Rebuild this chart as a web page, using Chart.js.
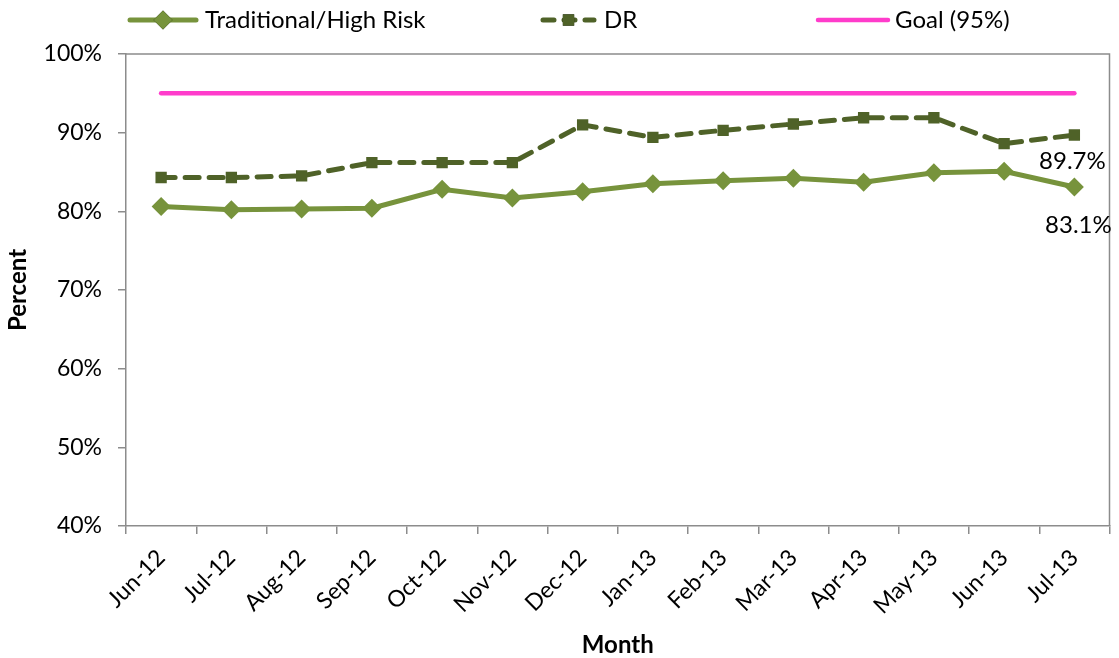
<!DOCTYPE html>
<html>
<head>
<meta charset="utf-8">
<script src="https://cdn.jsdelivr.net/npm/chart.js@4/dist/chart.umd.min.js"></script>
<style>
  html, body { margin: 0; padding: 0; background: #fff; }
  #wrap { width: 1119px; height: 658px; position: relative; }
</style>
</head>
<body>
<div id="wrap"><canvas id="chart"></canvas></div>
<script>
// Monthly compliance rates, June 2012 – July 2013
const months = ['Jun-12', 'Jul-12', 'Aug-12', 'Sep-12', 'Oct-12', 'Nov-12', 'Dec-12',
                'Jan-13', 'Feb-13', 'Mar-13', 'Apr-13', 'May-13', 'Jun-13', 'Jul-13'];
const traditionalHighRisk = [80.6, 80.2, 80.3, 80.4, 82.8, 81.7, 82.5, 83.5, 83.9, 84.2, 83.7, 84.9, 85.1, 83.1];
const dr = [84.3, 84.3, 84.5, 86.2, 86.2, 86.2, 91.0, 89.4, 90.3, 91.1, 91.9, 91.9, 88.6, 89.7];
const goal = [95, 95, 95, 95, 95, 95, 95, 95, 95, 95, 95, 95, 95, 95];
const yTicks = [40, 50, 60, 70, 80, 90, 100];

const FONT = 'Lato, "Open Sans", "Liberation Sans", sans-serif';
const AXIS_GREY = '#8c8c8c';

// Box around the plot area
const frame = {
  id: 'frame',
  afterDatasetsDraw(chart) {
    const { ctx, chartArea: a } = chart;
    ctx.save();
    ctx.strokeStyle = AXIS_GREY;
    ctx.lineWidth = 1.5;
    ctx.beginPath();
    ctx.moveTo(a.left, a.top);
    ctx.lineTo(a.right, a.top);
    ctx.lineTo(a.right, a.bottom);
    ctx.stroke();
    ctx.restore();
  }
};

// Value label under the last point of selected series
const lastLabels = {
  id: 'lastLabels',
  afterDatasetsDraw(chart) {
    const { ctx } = chart;
    ctx.save();
    ctx.font = '24px ' + FONT;
    ctx.fillStyle = '#000';
    ctx.textAlign = 'center';
    ctx.textBaseline = 'middle';
    chart.data.datasets.forEach((ds, i) => {
      if (!ds.endLabel) return;
      const meta = chart.getDatasetMeta(i);
      const last = meta.data[meta.data.length - 1];
      const v = ds.data[ds.data.length - 1];
      ctx.fillText(v.toFixed(1) + '%', last.x + ds.endLabel.dx, last.y + ds.endLabel.dy);
    });
    ctx.restore();
  }
};

// Legend row along the top: line sample with marker, then the name
const topLegend = {
  id: 'topLegend',
  afterDraw(chart) {
    const { ctx } = chart;
    const y = 20;
    ctx.save();
    ctx.font = '24px ' + FONT;
    ctx.textBaseline = 'middle';
    ctx.textAlign = 'left';
    chart.data.datasets.forEach((ds) => {
      const L = ds.legendPos;
      ctx.save();
      ctx.strokeStyle = ds.borderColor;
      ctx.lineWidth = ds.borderWidth;
      ctx.lineCap = 'round';
      ctx.setLineDash(ds.legendDash || []);
      ctx.beginPath();
      ctx.moveTo(L.x0, y);
      ctx.lineTo(L.x1, y);
      ctx.stroke();
      ctx.restore();
      if (ds.pointStyle && ds.pointRadius > 0) {
        Chart.helpers.drawPoint(ctx, {
          pointStyle: ds.pointStyle,
          radius: ds.pointRadius,
          borderWidth: 0,
          rotation: 0
        }, (L.x0 + L.x1) / 2, y);
        ctx.fillStyle = ds.pointBackgroundColor;
        ctx.fill();
      }
      ctx.fillStyle = '#000';
      ctx.fillText(ds.label, L.tx, y);
    });
    ctx.restore();
  }
};

const chart = new Chart(document.getElementById('chart'), {
  type: 'line',
  data: {
    labels: months,
    datasets: [
      {
        label: 'Traditional/High Risk',
        data: traditionalHighRisk,
        borderColor: '#77933C',
        backgroundColor: '#77933C',
        pointBackgroundColor: '#77933C',
        pointBorderColor: '#77933C',
        borderWidth: 5,
        pointStyle: 'rectRot',
        pointRadius: 9.5,
        pointBorderWidth: 0,
        tension: 0,
        endLabel: { dx: 4, dy: 38 },
        legendPos: { x0: 130, x1: 196, tx: 205 }
      },
      {
        label: 'DR',
        data: dr,
        borderColor: '#4F6228',
        backgroundColor: '#4F6228',
        pointBackgroundColor: '#4F6228',
        pointBorderColor: '#4F6228',
        borderWidth: 5,
        borderDash: [14, 10],
        borderCapStyle: 'round',
        pointStyle: 'rect',
        pointRadius: 8,
        pointBorderWidth: 0,
        tension: 0,
        endLabel: { dx: -2, dy: 26 },
        legendDash: [11, 10],
        legendPos: { x0: 543, x1: 594, tx: 604 }
      },
      {
        label: 'Goal (95%)',
        data: goal,
        borderColor: '#FF3CCB',
        backgroundColor: '#FF3CCB',
        borderWidth: 4.5,
        borderCapStyle: 'round',
        pointRadius: 0,
        pointHoverRadius: 0,
        tension: 0,
        legendPos: { x0: 818, x1: 888, tx: 895 }
      }
    ]
  },
  options: {
    responsive: true,
    maintainAspectRatio: false,
    animation: false,
    layout: { padding: { top: 54, right: 2, left: 0, bottom: 0 } },
    plugins: {
      legend: { display: false },
      tooltip: { enabled: false }
    },
    scales: {
      x: {
        type: 'category',
        offset: true,
        grid: {
          offset: true,
          drawOnChartArea: false,
          drawTicks: true,
          tickLength: 8,
          color: AXIS_GREY,
          lineWidth: 1.5
        },
        border: { color: AXIS_GREY, width: 1.5 },
        ticks: {
          color: '#000',
          font: { family: FONT, size: 23 },
          minRotation: 45,
          maxRotation: 45,
          padding: 10,
          autoSkip: false
        },
        title: {
          display: true,
          text: 'Month',
          color: '#000',
          font: { family: FONT, size: 24, weight: 'bold', lineHeight: 1.1 },
          padding: { top: 0, bottom: 0 }
        },
        afterFit(scale) { scale.height = 132; }
      },
      y: {
        min: 40,
        max: 100,
        afterBuildTicks(scale) {
          scale.ticks = yTicks.map(v => ({ value: v }));
        },
        grid: {
          drawOnChartArea: false,
          drawTicks: true,
          tickLength: 8,
          color: AXIS_GREY,
          lineWidth: 1.5
        },
        border: { color: AXIS_GREY, width: 1.5 },
        ticks: {
          color: '#000',
          font: { family: FONT, size: 23 },
          padding: 16,
          callback: (v) => v + '%'
        },
        title: {
          display: true,
          text: 'Percent',
          color: '#000',
          font: { family: FONT, size: 24, weight: 'bold', lineHeight: 1.1 },
          padding: { top: 5, bottom: 0 }
        },
        afterFit(scale) { scale.width = 126; }
      }
    }
  },
  plugins: [frame, lastLabels, topLegend]
});
</script>
</body>
</html>
